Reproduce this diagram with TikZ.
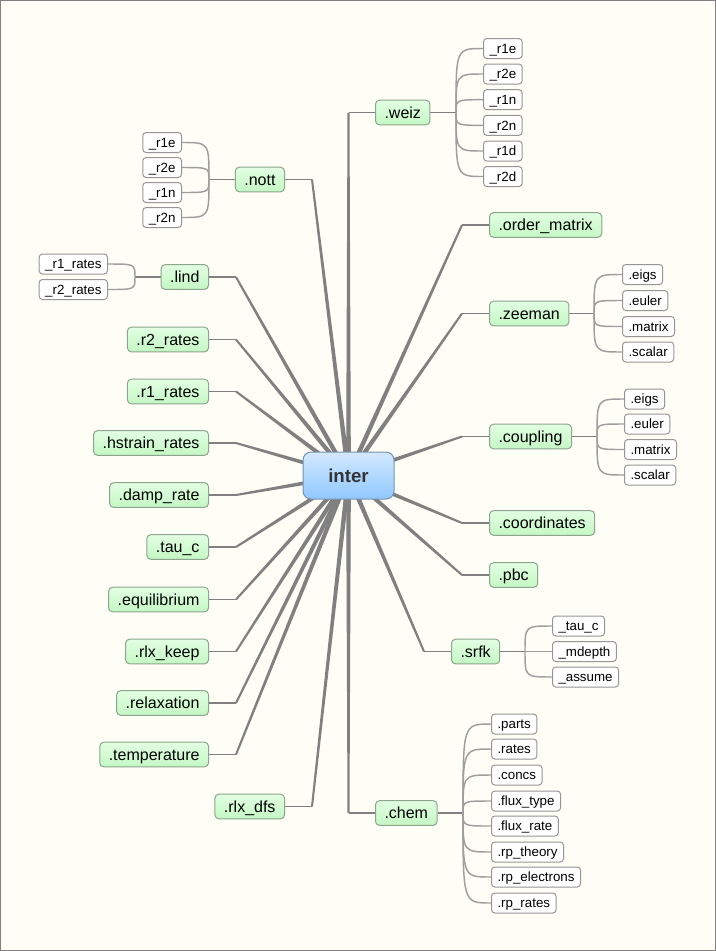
\documentclass[tikz,border=0pt]{standalone}
\usepackage{fontspec}
\setmainfont{Liberation Sans}
\usetikzlibrary{calc}
\pgfdeclarelayer{back}\pgfdeclarelayer{conn}
\pgfsetlayers{back,conn,main}
\definecolor{bgc}{RGB}{254,254,246}
\definecolor{framec}{RGB}{128,128,128}
\definecolor{connc}{RGB}{128,128,128}
\definecolor{leafconn}{RGB}{158,158,158}
\definecolor{gtop}{RGB}{226,255,226}
\definecolor{gbot}{RGB}{196,247,196}
\definecolor{gdraw}{RGB}{140,165,140}
\definecolor{btop}{RGB}{210,233,255}
\definecolor{bbot}{RGB}{145,200,255}
\definecolor{bdraw}{RGB}{120,145,175}
\definecolor{leafdraw}{RGB}{150,150,150}
\newcommand\taperline[2]{%
  \fill[connc] let \p1=(#1), \p2=(#2), \n1={veclen(\x2-\x1,\y2-\y1)},
    \n2={(\y2-\y1)/\n1}, \n3={(\x2-\x1)/\n1} in
    ({\x1+1.8*\n2},{\y1-1.8*\n3}) -- ({\x2+0.75*\n2},{\y2-0.75*\n3})
    -- ({\x2-0.75*\n2},{\y2+0.75*\n3}) -- ({\x1-1.8*\n2},{\y1+1.8*\n3}) -- cycle;}
\begin{document}
\begin{tikzpicture}[x=0.75pt,y=-0.75pt,
  root/.style={draw=bdraw, line width=0.75pt, top color=btop, bottom color=bbot,
    rounded corners=6pt, minimum width=68.25pt, minimum height=35.25pt,
    font=\fontsize{14}{16}\selectfont\bfseries, text=black!80, inner sep=0pt,
    text height=10pt, text depth=0pt},
  topic/.style={draw=gdraw, line width=0.75pt, top color=gtop, bottom color=gbot,
    rounded corners=3pt, font=\fontsize{12}{14}\selectfont, inner xsep=6.75pt,
    inner ysep=0pt, minimum height=18.5pt, text height=8.6pt, text depth=0pt},
  leaf/.style={draw=leafdraw, line width=0.75pt, fill=white, rounded corners=2.5pt,
    font=\fontsize{10}{12}\selectfont, inner xsep=4.5pt, inner ysep=0pt,
    minimum height=15pt, text height=7.2pt, text depth=0pt},
  stub/.style={draw=connc, line width=1.3pt},
  twig/.style={draw=leafconn, line width=1.1pt},
]
\useasboundingbox (0,0) rectangle (716,951);
\begin{pgfonlayer}{back}
  \fill[bgc] (0,0) rectangle (716,951);
  \draw[framec, line width=0.75pt] (0.5,0.5) rectangle (715.5,950.5);
\end{pgfonlayer}

% root
\node[root] (inter) at (348.5,475.5) {inter};

% left topics
\node[topic, anchor=east] (nott) at (285,179.5) {.nott};
\node[topic, anchor=east] (lind) at (209,277) {.lind};
\node[topic, anchor=east] (r2rates) at (209,339.5) {.r2\_rates};
\node[topic, anchor=east] (r1rates) at (209,391.5) {.r1\_rates};
\node[topic, anchor=east] (hstrain) at (209,443) {.hstrain\_rates};
\node[topic, anchor=east] (damp) at (209,495) {.damp\_rate};
\node[topic, anchor=east] (tauc) at (209,547) {.tau\_c};
\node[topic, anchor=east] (equil) at (209,599.5) {.equilibrium};
\node[topic, anchor=east] (rlxkeep) at (209,651.5) {.rlx\_keep};
\node[topic, anchor=east] (relax) at (209,703) {.relaxation};
\node[topic, anchor=east] (temp) at (209,754.5) {.temperature};
\node[topic, anchor=east] (rlxdfs) at (285,806.5) {.rlx\_dfs};

% right topics
\node[topic, anchor=west] (weiz) at (375,112.5) {.weiz};
\node[topic, anchor=west] (order) at (489,225) {.order\_matrix};
\node[topic, anchor=west] (zeeman) at (489,313.5) {.zeeman};
\node[topic, anchor=west] (coupling) at (489,436.5) {.coupling};
\node[topic, anchor=west] (coords) at (489,523) {.coordinates};
\node[topic, anchor=west] (pbc) at (489,575) {.pbc};
\node[topic, anchor=west] (srfk) at (451,651.5) {.srfk};
\node[topic, anchor=west] (chem) at (375,813) {.chem};

% leaves: weiz
\node[leaf, anchor=west] (wz1) at (483,48.5) {\_r1e};
\node[leaf, anchor=west] (wz2) at (483,74) {\_r2e};
\node[leaf, anchor=west] (wz3) at (483,99.7) {\_r1n};
\node[leaf, anchor=west] (wz4) at (483,125.3) {\_r2n};
\node[leaf, anchor=west] (wz5) at (483,151) {\_r1d};
\node[leaf, anchor=west] (wz6) at (483,176.5) {\_r2d};
% leaves: nott
\node[leaf, anchor=east] (nt1) at (182,142.5) {\_r1e};
\node[leaf, anchor=east] (nt2) at (182,167.5) {\_r2e};
\node[leaf, anchor=east] (nt3) at (182,192.5) {\_r1n};
\node[leaf, anchor=east] (nt4) at (182,217.5) {\_r2n};
% leaves: lind
\node[leaf, anchor=east] (ld1) at (108,264) {\_r1\_rates};
\node[leaf, anchor=east] (ld2) at (108,289.5) {\_r2\_rates};
% leaves: zeeman
\node[leaf, anchor=west] (zm1) at (622,274.5) {.eigs};
\node[leaf, anchor=west] (zm2) at (622,300.5) {.euler};
\node[leaf, anchor=west] (zm3) at (622,326.5) {.matrix};
\node[leaf, anchor=west] (zm4) at (622,352) {.scalar};
% leaves: coupling
\node[leaf, anchor=west] (cp1) at (624,399) {.eigs};
\node[leaf, anchor=west] (cp2) at (624,424) {.euler};
\node[leaf, anchor=west] (cp3) at (624,449.5) {.matrix};
\node[leaf, anchor=west] (cp4) at (624,475) {.scalar};
% leaves: srfk
\node[leaf, anchor=west] (sf1) at (552,626) {\_tau\_c};
\node[leaf, anchor=west] (sf2) at (552,651.5) {\_mdepth};
\node[leaf, anchor=west] (sf3) at (552,677) {\_assume};
% leaves: chem
\node[leaf, anchor=west] (ch1) at (491,724) {.parts};
\node[leaf, anchor=west] (ch2) at (491,749) {.rates};
\node[leaf, anchor=west] (ch3) at (491,775) {.concs};
\node[leaf, anchor=west] (ch4) at (491,801) {.flux\_type};
\node[leaf, anchor=west] (ch5) at (491,826) {.flux\_rate};
\node[leaf, anchor=west] (ch6) at (491,852) {.rp\_theory};
\node[leaf, anchor=west] (ch7) at (491,877) {.rp\_electrons};
\node[leaf, anchor=west] (ch8) at (491,903) {.rp\_rates};

% elbows
\foreach \nm in {nott,lind,r2rates,r1rates,hstrain,damp,tauc,equil,rlxkeep,relax,temp,rlxdfs}
  \coordinate (e-\nm) at ($(\nm.east)+(27,0)$);
\foreach \nm in {order,zeeman,coupling,coords,pbc,srfk}
  \coordinate (e-\nm) at ($(\nm.west)+(-27,0)$);
\coordinate (e-weiz) at (inter.center |- weiz.west);
\coordinate (e-chem) at (inter.center |- chem.west);

% trunks
\coordinate (t-weiz) at (456,112.5);
\coordinate (t-nott) at (209,179.5);
\coordinate (t-lind) at (135,277);
\coordinate (t-zeeman) at (594,313.5);
\coordinate (t-coupling) at (597,436.5);
\coordinate (t-srfk) at (525,651.5);
\coordinate (t-chem) at (463,813);

\begin{pgfonlayer}{conn}
  \foreach \nm in {nott,lind,r2rates,r1rates,hstrain,damp,tauc,equil,rlxkeep,relax,temp,rlxdfs}{
    \taperline{inter.center}{e-\nm}
    \draw[stub] (e-\nm) -- (\nm.east);
  }
  \foreach \nm in {weiz,order,zeeman,coupling,coords,pbc,srfk,chem}{
    \taperline{inter.center}{e-\nm}
    \draw[stub] (e-\nm) -- (\nm.west);
  }
  % right-hand leaf groups
  \foreach \pa/\ls in {weiz/{wz1,wz2,wz3,wz4,wz5,wz6},zeeman/{zm1,zm2,zm3,zm4},
      coupling/{cp1,cp2,cp3,cp4},srfk/{sf1,sf2,sf3},
      chem/{ch1,ch2,ch3,ch4,ch5,ch6,ch7,ch8}}{
    \draw[stub] (\pa.east) -- (t-\pa);
    \foreach \lf in \ls
      \draw[twig] (t-\pa) .. controls (t-\pa |- \lf.west) and (t-\pa |- \lf.west) .. (\lf.west);
  }
  % left-hand leaf groups
  \foreach \pa/\ls in {nott/{nt1,nt2,nt3,nt4},lind/{ld1,ld2}}{
    \draw[stub] (\pa.west) -- (t-\pa);
    \foreach \lf in \ls
      \draw[twig] (t-\pa) .. controls (t-\pa |- \lf.east) and (t-\pa |- \lf.east) .. (\lf.east);
  }
\end{pgfonlayer}
\end{tikzpicture}
\end{document}
